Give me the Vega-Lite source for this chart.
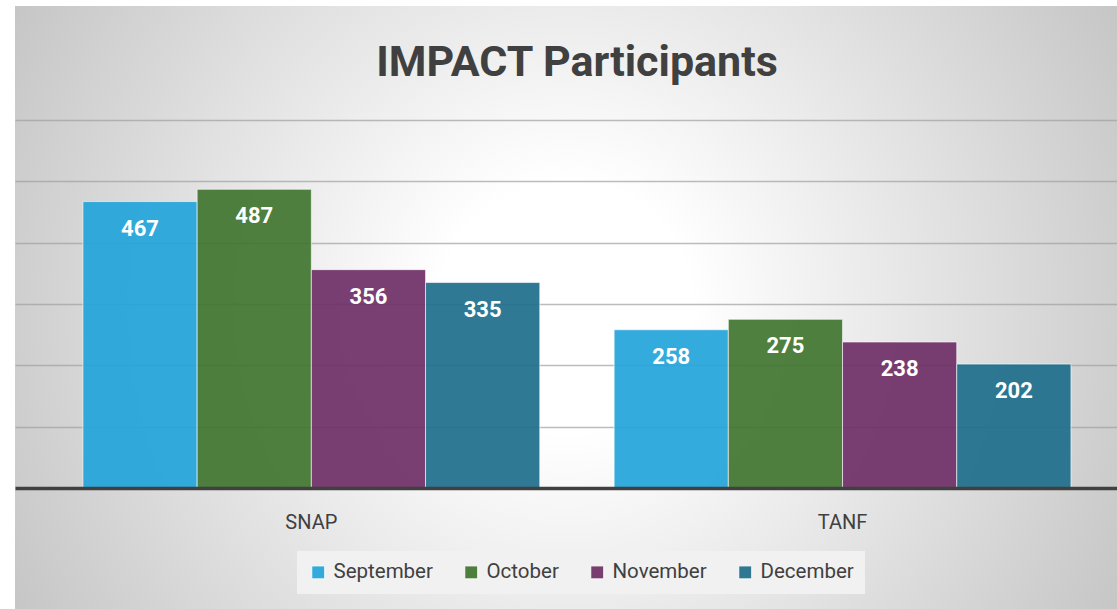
{
  "$schema": "https://vega.github.io/schema/vega-lite/v6.json",
  "width": 1102,
  "height": 603,
  "autosize": {"type": "none"},
  "padding": {"left": 15, "top": 6, "right": 0, "bottom": 0},
  "background": "#ffffff",
  "view": {
    "stroke": null,
    "fill": {
      "gradient": "radial",
      "x1": 0.5, "y1": 0.5, "r1": 0,
      "x2": 0.5, "y2": 0.5, "r2": 0.57,
      "stops": [
        {"offset": 0, "color": "#ffffff"},
        {"offset": 0.2, "color": "#ffffff"},
        {"offset": 1, "color": "#c6c6c6"}
      ]
    }
  },
  "title": {
    "text": "IMPACT Participants",
    "font": "Roboto",
    "fontSize": 43,
    "fontWeight": "bold",
    "color": "#404040",
    "anchor": "middle",
    "frame": "group",
    "dx": 11,
    "offset": -113,
    "baseline": "alphabetic"
  },
  "data": {
    "values": [
      {"program": "SNAP", "month": "September", "value": 467},
      {"program": "SNAP", "month": "October", "value": 487},
      {"program": "SNAP", "month": "November", "value": 356},
      {"program": "SNAP", "month": "December", "value": 335},
      {"program": "TANF", "month": "September", "value": 258},
      {"program": "TANF", "month": "October", "value": 275},
      {"program": "TANF", "month": "November", "value": 238},
      {"program": "TANF", "month": "December", "value": 202}
    ]
  },
  "encoding": {
    "x": {
      "field": "program",
      "type": "nominal",
      "scale": {"paddingInner": 0.14, "paddingOuter": 0.1073, "align": 0.596},
      "axis": {
        "title": null,
        "orient": "bottom",
        "offset": -121,
        "domainColor": "#404040",
        "domainWidth": 3.5,
        "ticks": false,
        "grid": false,
        "labelAngle": 0,
        "labelFont": "Roboto",
        "labelFontSize": 20,
        "labelColor": "#404040",
        "labelPadding": 24,
        "zindex": 1
      }
    },
    "xOffset": {
      "field": "month",
      "type": "nominal",
      "sort": ["September", "October", "November", "December"],
      "scale": {"paddingInner": 0, "paddingOuter": 0}
    },
    "y": {
      "field": "value",
      "type": "quantitative",
      "scale": {"domain": [-197.28, 785.87], "nice": false, "zero": false},
      "axis": {
        "title": null,
        "values": [100, 200, 300, 400, 500, 600],
        "domain": false,
        "ticks": false,
        "labels": false,
        "grid": true,
        "gridColor": "#a0a0a0",
        "gridOpacity": 0.7,
        "gridWidth": 1.5
      }
    }
  },
  "layer": [
    {
      "mark": {"type": "bar", "fillOpacity": 0.92, "stroke": "#ffffff", "strokeWidth": 1, "strokeOpacity": 0.6},
      "encoding": {
        "y2": {"datum": 0},
        "color": {
          "field": "month",
          "type": "nominal",
          "scale": {
            "domain": ["September", "October", "November", "December"],
            "range": ["#22a4da", "#40752f", "#6f2f66", "#1e6e8b"]
          },
          "legend": {
            "title": null,
            "orient": "none",
            "legendX": 282,
            "legendY": 545,
            "direction": "horizontal",
            "symbolType": "square",
            "symbolSize": 169,
            "symbolOpacity": 0.92,
            "symbolStrokeColor": "#ffffff",
            "symbolStrokeWidth": 1,
            "labelFont": "Roboto",
            "labelFontSize": 20.5,
            "labelColor": "#404040",
            "labelOffset": 5,
            "columnPadding": 28,
            "padding": 11,
            "fillColor": "#f1f1f1"
          }
        }
      }
    },
    {
      "mark": {"type": "text", "color": "#ffffff", "font": "Roboto", "fontSize": 22, "fontWeight": "bold", "baseline": "middle", "dy": 27},
      "encoding": {
        "text": {"field": "value", "type": "quantitative"}
      }
    }
  ]
}
